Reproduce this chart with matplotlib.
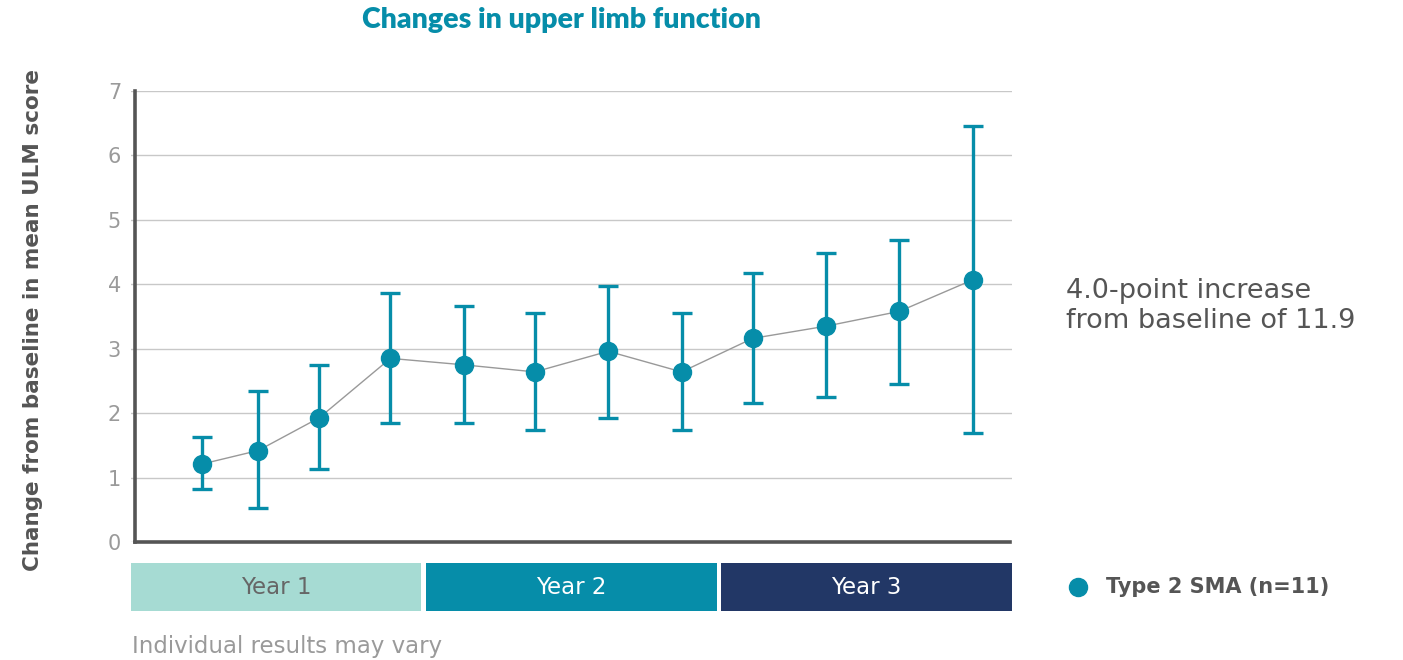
"""Changes in upper limb function — mean change from baseline in ULM score with error bars."""
import matplotlib
matplotlib.use('Agg')
import matplotlib.pyplot as plt
from matplotlib.patches import Rectangle

plt.rcParams['font.family'] = ['DejaVu Sans']

# visit time (months from start) and mean change with interval bounds
months = [2.9, 5.2, 7.7, 10.6, 13.6, 16.5, 19.5, 22.5, 25.4, 28.4, 31.4, 34.4]
mean_change = [1.21, 1.42, 1.93, 2.85, 2.75, 2.64, 2.96, 2.64, 3.16, 3.35, 3.58, 4.07]
upper = [1.63, 2.34, 2.74, 3.87, 3.66, 3.55, 3.97, 3.55, 4.18, 4.49, 4.68, 6.45]
lower = [0.82, 0.53, 1.13, 1.84, 1.85, 1.74, 1.92, 1.74, 2.15, 2.25, 2.45, 1.69]
years = ['Year 1', 'Year 2', 'Year 3']
year_spans = [(0, 11.85), (12.05, 23.95), (24.1, 36)]
year_colors = ['#a6dbd3', '#068da9', '#223766']
year_text = ['#666666', 'white', 'white']

TEAL = '#068da9'
W, H = 1403, 660

fig = plt.figure(figsize=(W / 100, H / 100), dpi=100)

# main axes: x 0..36 months, the band row below uses the same scale
x0_px, x1_px = 131, 1012
ax = fig.add_axes([x0_px / W, (H - 542) / H, (x1_px - x0_px) / W, (542 - 91) / H])
ax.set_xlim(0, 36)
ax.set_ylim(0, 7)

err_lo = [m - l for m, l in zip(mean_change, lower)]
err_hi = [u - m for m, u in zip(mean_change, upper)]
ax.plot(months, mean_change, color='#999999', lw=1.0, zorder=2)
ax.errorbar(months, mean_change, yerr=[err_lo, err_hi], fmt='none',
            ecolor=TEAL, elinewidth=2.4, capsize=7.5, capthick=2.4, zorder=3)
ax.plot(months, mean_change, 'o', color=TEAL, ms=13, zorder=4)

ax.set_yticks(range(8))
ax.yaxis.grid(True, color='#c8c8c8', lw=1.0)
ax.set_axisbelow(True)
ax.tick_params(axis='y', length=0, labelsize=15, labelcolor='#9a9a9a', pad=10)
ax.set_xticks([])
for s in ['top', 'right']:
    ax.spines[s].set_visible(False)
ax.spines['left'].set_position(('data', 0.16))
ax.spines['left'].set_color('#555555')
ax.spines['left'].set_linewidth(2.6)
ax.spines['bottom'].set_color('#555555')
ax.spines['bottom'].set_linewidth(2.6)
ax.spines['bottom'].set_bounds(0.16, 35.9)

# year band row
bx = fig.add_axes([x0_px / W, (H - 611) / H, (x1_px - x0_px) / W, (611 - 563) / H])
bx.set_xlim(0, 36)
bx.set_ylim(0, 1)
bx.axis('off')
for lab, (a, b), c, tc in zip(years, year_spans, year_colors, year_text):
    bx.add_patch(Rectangle((a, 0), b - a, 1, color=c, lw=0))
    bx.text((a + b) / 2, 0.48, lab, ha='center', va='center', fontsize=16.5, color=tc)

fig.text(562 / W, 1 - 20 / H, 'Changes in upper limb function', ha='center', va='center',
         fontsize=20.5, fontweight='heavy', color=TEAL, family=['Lato', 'DejaVu Sans'])
fig.text(33 / W, 1 - 320 / H, 'Change from baseline in mean ULM score', rotation=90,
         ha='center', va='center', fontsize=15.5, fontweight='bold', color='#555555')
fig.text(1066 / W, 1 - 306 / H, '4.0-point increase\nfrom baseline of 11.9', ha='left', va='center',
         fontsize=19.5, color='#555555', linespacing=1.15)
fig.text(132 / W, 1 - 646 / H, 'Individual results may vary', ha='left', va='center',
         fontsize=16.5, color='#9a9a9a')

# legend
fig.lines.append(plt.Line2D([1078 / W], [1 - 587 / H], marker='o', ms=13, color=TEAL,
                            transform=fig.transFigure, figure=fig))
fig.text(1106 / W, 1 - 587 / H, 'Type 2 SMA (n=11)', ha='left', va='center',
         fontsize=15, fontweight='bold', color='#555555')

plt.savefig('out.png', dpi=100)
